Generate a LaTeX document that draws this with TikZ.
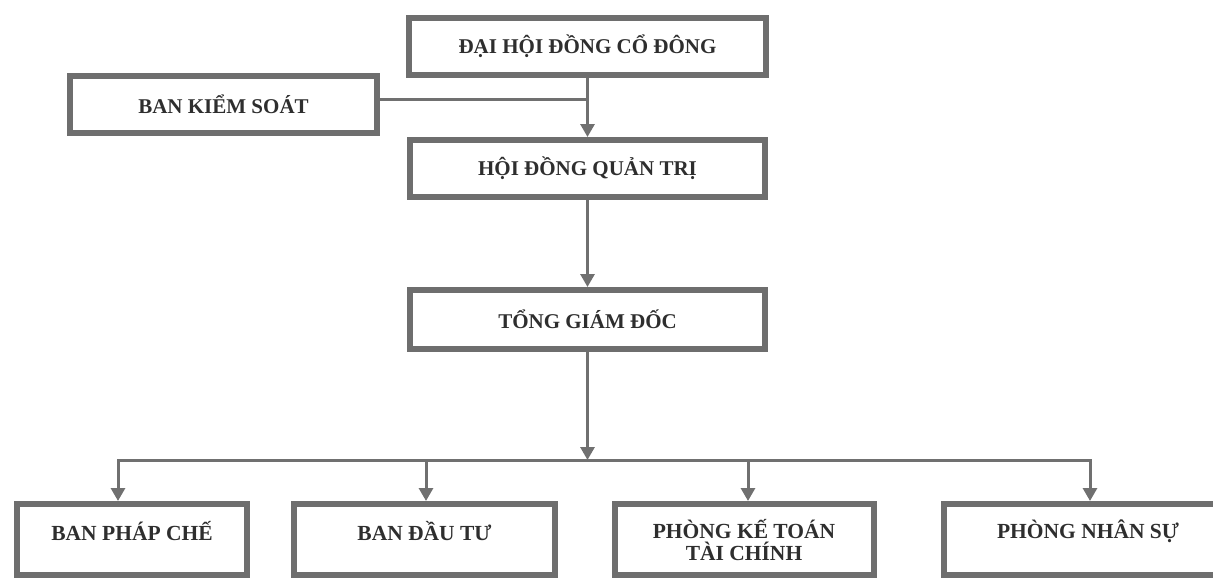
\documentclass[tikz,border=0pt]{standalone}
\usepackage{fontspec}
\setmainfont{Liberation Serif}
\usetikzlibrary{arrows.meta,calc}
\definecolor{boxgray}{HTML}{6E6E6E}
\definecolor{linegray}{HTML}{707070}
\definecolor{txtgray}{HTML}{2E2E2E}
\tikzset{
  orgbox/.style={draw=boxgray, line width=6pt, fill=white, rectangle, inner sep=0pt,
    text=txtgray, font=\bfseries\fontsize{21}{21}\selectfont, align=center},
  conn/.style={draw=linegray, line width=3pt},
  arr/.style={conn, -{Triangle[width=14pt,length=13pt]}},
  lbl/.style={text=txtgray, font=\bfseries\fontsize{21.5}{21.5}\selectfont, align=center, inner sep=0pt}
}
\begin{document}
\begin{tikzpicture}[x=1pt,y=1pt]
\useasboundingbox (0,0) rectangle (1213,-578);
% top column
\node[orgbox, minimum width=357pt, minimum height=57pt] (D) at (587.5,-46.5) {ĐẠI HỘI ĐỒNG CỔ ĐÔNG};
\node[orgbox, minimum width=307pt, minimum height=57pt] (K) at (223.5,-104.5) {BAN KIỂM SOÁT};
\node[orgbox, minimum width=355pt, minimum height=57pt] (Q) at (587.5,-168.5) {HỘI ĐỒNG QUẢN TRỊ};
\node[orgbox, minimum width=355pt, minimum height=59pt] (T) at (587.5,-319.5) {TỔNG GIÁM ĐỐC};
% bottom row
\node[orgbox, minimum width=230pt, minimum height=71pt] (P1) at (132,-539.5) {};
\node[orgbox, minimum width=261pt, minimum height=71pt] (P2) at (424.5,-539.5) {};
\node[orgbox, minimum width=259pt, minimum height=71pt] (P3) at (744,-539.5) {};
\node[orgbox, minimum width=288pt, minimum height=71pt] (P4) at (1088,-539.5) {};
\node[lbl] (L1) at (132,-531.5) {BAN PHÁP CHẾ};
\node[lbl] (L2) at (424.5,-531.5) {BAN ĐẦU TƯ};
\node[lbl] (L3) at (744,-540) {PHÒNG KẾ TOÁN\\TÀI CHÍNH};
\node[lbl] (L4) at (1088,-531.5) {PHÒNG NHÂN SỰ};
% connectors
\coordinate (bus) at (587.5,-460);
\coordinate (d1) at (118,-460);
\coordinate (d2) at (426,-460);
\coordinate (d3) at (748,-460);
\coordinate (d4) at (1090,-460);
\draw[arr] (D.south) -- (Q.north);
\draw[conn] ([yshift=5pt]K.east) -- ([yshift=5pt]K.east -| Q.north);
\draw[arr] (Q.south) -- (T.north);
\draw[arr] (T.south) -- (bus);
\draw[arr] (bus) -- (d1) -- (d1 |- P1.north);
\draw[arr] (bus) -- (d4) -- (d4 |- P4.north);
\draw[arr] (d2) -- (d2 |- P2.north);
\draw[arr] (d3) -- (d3 |- P3.north);
\end{tikzpicture}
\end{document}
